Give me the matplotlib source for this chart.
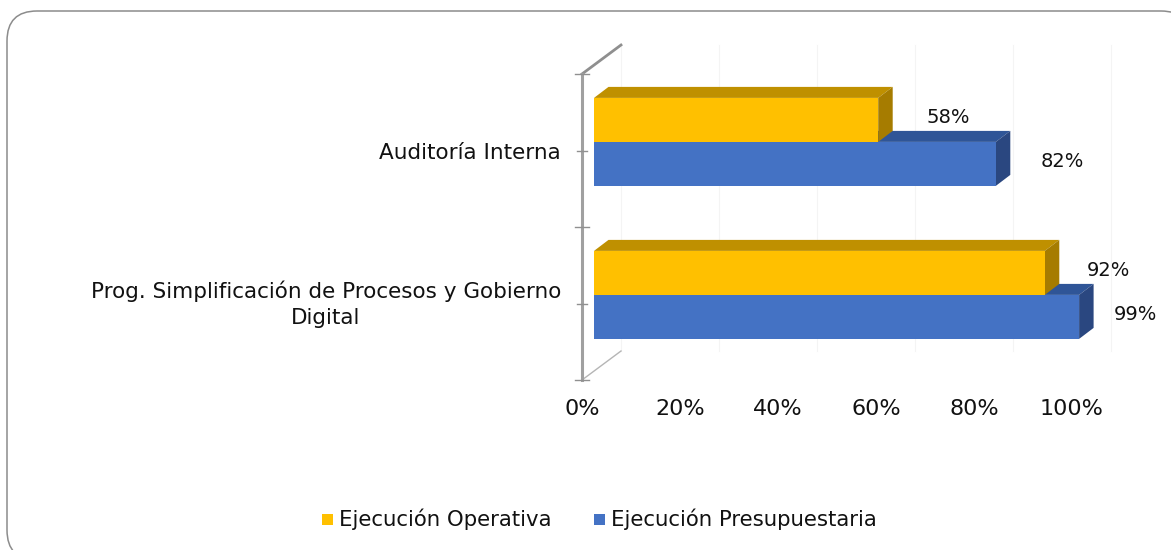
import matplotlib
matplotlib.use('Agg')
import matplotlib.pyplot as plt
from matplotlib.patches import FancyBboxPatch, Polygon, Rectangle
from matplotlib.transforms import ScaledTranslation

categories = ['Prog. Simplificación de Procesos y Gobierno\nDigital', 'Auditoría Interna']
operativa = [92, 58]
presupuestaria = [99, 82]
x_ticks = [0, 20, 40, 60, 80, 100]

W, H = 1171, 550
YELLOW, YELLOW_TOP, YELLOW_SIDE = '#FFC000', '#BF9000', '#A67C00'
BLUE, BLUE_TOP, BLUE_SIDE = '#4472C4', '#2F5597', '#2A4780'
TEXT = '#111111'

plt.rcParams['font.family'] = 'DejaVu Sans'
fig = plt.figure(figsize=(W / 100, H / 100), dpi=100)

# rounded frame, drawn in pixels, runs off the right and bottom edge
bg = fig.add_axes([0, 0, 1, 1])
bg.set_xlim(0, W)
bg.set_ylim(H, 0)
bg.axis('off')
bg.add_patch(FancyBboxPatch((7, 11), 1184, 549, boxstyle='round,pad=0,rounding_size=30',
                            fc='white', ec='#8c8c8c', lw=1.1))

# front plane of the fake 3d box: 582-1072 px wide, 74-380 px tall
ax = fig.add_axes([582 / W, 1 - 380 / H, 490 / W, 306 / H])
ax.set_xlim(0, 100)
ax.set_ylim(0, 2)
ax.patch.set_alpha(0)
for s in ax.spines.values():
    s.set_visible(False)

px = 100 / 490  # one pixel in x data units
py = 2 / 306    # one pixel in y data units

# depth of the back wall and of the bars
wall_dx, wall_dy = 39 * px, 29 * py
bar_dx, bar_dy = 14.5 * px, 11 * py
bar_left = 12 * px
bar_h = 44 * py
shift = 8.6 * py  # bars sit a bit above the category centre

# label gaps differ per bar in the reference, in pixels from the bar end
gap_op = [42, 48]
gap_pr = [35, 45]

for t in x_ticks:
    ax.plot([t + wall_dx, t + wall_dx], [wall_dy, 2 + wall_dy], color='#f4f4f4', lw=0.8, clip_on=False, zorder=1)

# floor and wall edges
ax.plot([0, wall_dx], [2, 2 + wall_dy], color='#8f8f8f', lw=2, clip_on=False, zorder=2)
ax.plot([0, wall_dx], [0, wall_dy], color='#b5b5b5', lw=1, clip_on=False, zorder=2)
ax.plot([0, 0], [0, 2], color='#a0a0a0', lw=2.2, clip_on=False, zorder=2)
for t in [0, 0.5, 1, 1.5, 2]:
    tick = 7 * px if t in (0, 1, 2) else 5 * px
    ax.plot([-tick, tick], [t, t], color='#909090', lw=1, clip_on=False, zorder=2)


def draw_bar(v, y0, front, top, side):
    # y0 is the lower edge of the front face
    x1 = bar_left + v
    ax.add_patch(Polygon([(bar_left, y0 + bar_h), (x1, y0 + bar_h), (x1 + bar_dx, y0 + bar_h + bar_dy),
                          (bar_left + bar_dx, y0 + bar_h + bar_dy)], fc=top, ec='none', zorder=3, clip_on=False))
    ax.add_patch(Polygon([(x1, y0), (x1 + bar_dx, y0 + bar_dy), (x1 + bar_dx, y0 + bar_h + bar_dy),
                          (x1, y0 + bar_h)], fc=side, ec='none', zorder=3, clip_on=False))
    ax.add_patch(Rectangle((bar_left, y0), v, bar_h, fc=front, ec='none', zorder=3, clip_on=False))


# blue goes first so the yellow one overlaps its depth faces
for i in range(len(categories)):
    c = i + 0.5
    draw_bar(presupuestaria[i], c + shift - bar_h, BLUE, BLUE_TOP, BLUE_SIDE)
    draw_bar(operativa[i], c + shift, YELLOW, YELLOW_TOP, YELLOW_SIDE)
    ax.text(bar_left + operativa[i] + gap_op[i] * px, c + shift + bar_h / 2 + 2 * py, '%d%%' % operativa[i],
            ha='left', va='center', fontsize=14, color=TEXT, clip_on=False, zorder=4)
    ax.text(bar_left + presupuestaria[i] + gap_pr[i] * px, c + shift - bar_h / 2 + 2.5 * py, '%d%%' % presupuestaria[i],
            ha='left', va='center', fontsize=14, color=TEXT, clip_on=False, zorder=4)

ax.set_xticks(x_ticks)
ax.set_xticklabels(['%d%%' % t for t in x_ticks], fontsize=16, color=TEXT)
ax.set_yticks([0.5, 1.5])
ax.set_yticklabels(categories, fontsize=15.45, color=TEXT, ha='right', multialignment='center', linespacing=1.38)
ax.tick_params(axis='x', length=0, pad=14)
ax.tick_params(axis='y', length=0, pad=15)

# the two-line label sits higher than its tick
labs = ax.get_yticklabels()
labs[0].set_transform(labs[0].get_transform() + ScaledTranslation(0, 3 / 72, fig.dpi_scale_trans))
labs[1].set_transform(labs[1].get_transform() + ScaledTranslation(0, -0.4 / 72, fig.dpi_scale_trans))

# legend, placed by hand to sit on the reference row
bg.add_patch(Rectangle((322, 514), 11, 11, fc=YELLOW, ec='none'))
bg.text(339, 519.5, 'Ejecución Operativa', fontsize=15.35, va='center', ha='left', color=TEXT)
bg.add_patch(Rectangle((594, 514), 11, 11, fc=BLUE, ec='none'))
bg.text(611, 519.5, 'Ejecución Presupuestaria', fontsize=15.35, va='center', ha='left', color=TEXT)

fig.savefig('out.png', dpi=100)
